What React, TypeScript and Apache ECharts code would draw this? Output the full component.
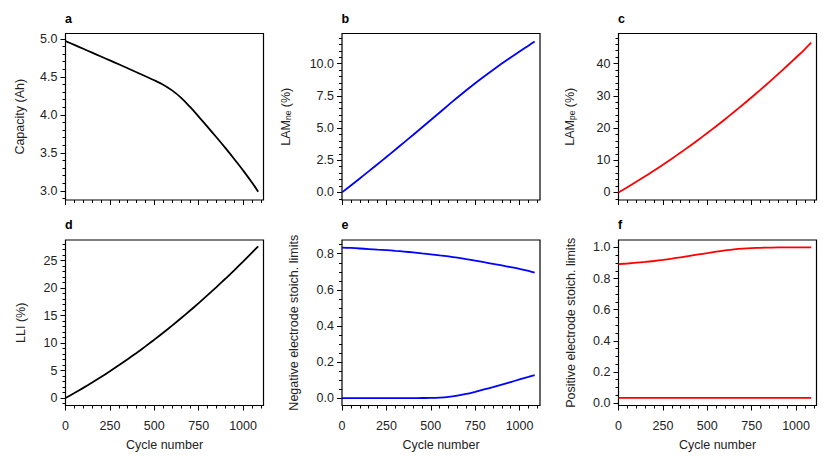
import React, { useEffect, useRef } from "react";
import * as echarts from "echarts";

// ---------- data ----------
const cycles = [0, 50, 100, 150, 200, 250, 300, 350, 400, 450, 500, 550, 600, 650, 700, 750, 800, 850, 900, 950, 1000, 1050, 1085];

const capacity = [4.97, 4.92, 4.869, 4.818, 4.767, 4.716, 4.665, 4.613, 4.561, 4.508, 4.455, 4.397, 4.322, 4.227, 4.107, 3.977, 3.842, 3.705, 3.565, 3.42, 3.27, 3.11, 2.99];
const lamNe = [0, 0.54, 1.085, 1.635, 2.19, 2.75, 3.315, 3.885, 4.46, 5.04, 5.623, 6.208, 6.793, 7.373, 7.938, 8.483, 9.008, 9.513, 10.003, 10.478, 10.943, 11.398, 11.713];
const lamPe = [0, 1.62, 3.29, 5.01, 6.78, 8.6, 10.47, 12.39, 14.36, 16.38, 18.45, 20.57, 22.74, 24.96, 27.23, 29.55, 31.92, 34.34, 36.81, 39.33, 41.9, 44.52, 46.5];
const lli = [0, 0.9, 1.836, 2.808, 3.816, 4.86, 5.94, 7.056, 8.208, 9.396, 10.62, 11.88, 13.176, 14.508, 15.876, 17.28, 18.72, 20.196, 21.708, 23.256, 24.84, 26.46, 27.6];
const negUpper = [0.834, 0.832, 0.829, 0.826, 0.823, 0.82, 0.816, 0.812, 0.807, 0.802, 0.797, 0.791, 0.785, 0.778, 0.77, 0.762, 0.753, 0.744, 0.735, 0.726, 0.716, 0.705, 0.695];
const negLower = [0.001, 0.001, 0.001, 0.001, 0.001, 0.001, 0.001, 0.001, 0.0012, 0.0015, 0.002, 0.004, 0.008, 0.015, 0.024, 0.036, 0.049, 0.062, 0.076, 0.09, 0.104, 0.118, 0.128];
const posUpper = [0.893, 0.897, 0.902, 0.907, 0.913, 0.92, 0.928, 0.937, 0.946, 0.955, 0.964, 0.973, 0.981, 0.988, 0.993, 0.996, 0.998, 0.999, 1.0, 1.0, 1.0, 1.0, 1.0];
const posLower = [0.033, 0.033, 0.033, 0.033, 0.033, 0.033, 0.033, 0.033, 0.033, 0.033, 0.033, 0.033, 0.033, 0.033, 0.033, 0.033, 0.033, 0.033, 0.033, 0.033, 0.033, 0.033, 0.033];

const panelLetters = ["a", "b", "c", "d", "e", "f"];
const yNames = [
  "Capacity (Ah)",
  "{n|LAM}{s|ne}{n| (%)}",
  "{n|LAM}{s|pe}{n| (%)}",
  "LLI (%)",
  "Negative electrode stoich. limits",
  "Positive electrode stoich. limits",
];
const xName = "Cycle number";
const xLimits = [0, 1115];
const xMajorTicks = [0, 250, 500, 750, 1000];
const xMinorStep = 50;

const yLimits = [
  [2.88, 5.07],
  [-0.59, 12.34],
  [-2.35, 49.35],
  [-1.37, 28.77],
  [-0.04, 0.876],
  [-0.016, 1.048],
];
const yMajorTicks = [
  [3.0, 3.5, 4.0, 4.5, 5.0],
  [0, 2.5, 5, 7.5, 10],
  [0, 10, 20, 30, 40],
  [0, 5, 10, 15, 20, 25],
  [0, 0.2, 0.4, 0.6, 0.8],
  [0, 0.2, 0.4, 0.6, 0.8, 1.0],
];
const yMinorSteps = [0.1, 0.5, 2, 1, 0.05, 0.05];
const yDecimals = [1, 1, 0, 0, 1, 1];

const panelSeries = [
  [{ values: capacity, color: "#000000" }],
  [{ values: lamNe, color: "#0000ff" }],
  [{ values: lamPe, color: "#ff0000" }],
  [{ values: lli, color: "#000000" }],
  [{ values: negUpper, color: "#0000ff" }, { values: negLower, color: "#0000ff" }],
  [{ values: posUpper, color: "#ff0000" }, { values: posLower, color: "#ff0000" }],
];

// ---------- layout ----------
const colLeft = [65.5, 342, 618.5];
const rowTop = [33.5, 240];
const gridW = 198;
const gridH = [166.5, 165.5];
const yNameGaps = [39, 50, 42, 38, 41.5, 41];
const FONT = "Liberation Sans";
const TEXT = "#222222";

function minorValues(lim: number[], step: number, majors: number[]) {
  const out: number[] = [];
  const start = Math.ceil(lim[0] / step - 1e-9);
  const end = Math.floor(lim[1] / step + 1e-9);
  for (let k = start; k <= end; k++) {
    const v = Math.round(k * step * 1e6) / 1e6;
    if (!majors.some((m) => Math.abs(m - v) < 1e-9)) out.push(v);
  }
  return out;
}

function buildOption() {
  const grids: any[] = [];
  const xAxes: any[] = [];
  const yAxes: any[] = [];
  const series: any[] = [];
  const graphics: any[] = [];

  for (let i = 0; i < 6; i++) {
    const r = Math.floor(i / 3);
    const c = i % 3;
    const bottomRow = r === 1;
    grids.push({
      left: colLeft[c],
      top: rowTop[r],
      width: gridW,
      height: gridH[r],
      show: true,
      borderColor: "#000",
      borderWidth: 1.2,
      backgroundColor: "transparent",
    });
    const xMinor = minorValues(xLimits, xMinorStep, xMajorTicks);
    xAxes.push({
      type: "value",
      gridIndex: i,
      position: "bottom",
      min: xLimits[0],
      max: xLimits[1],
      axisLine: { show: false, onZero: false },
      splitLine: { show: false },
      axisTick: { show: true, length: 5, customValues: xMajorTicks, lineStyle: { color: "#000", width: 1 } },
      axisLabel: {
        show: bottomRow,
        customValues: xMajorTicks,
        formatter: (v: number) => String(Math.round(v)),
        margin: 14,
        fontSize: 12.5,
        fontFamily: FONT,
        color: TEXT,
      },
      name: bottomRow ? xName : "",
      nameLocation: "middle",
      nameGap: 33,
      nameTextStyle: { fontSize: 12.5, fontFamily: FONT, color: TEXT },
    });
    xAxes.push({
      type: "value",
      gridIndex: i,
      position: "bottom",
      min: xLimits[0],
      max: xLimits[1],
      axisLine: { show: false, onZero: false },
      splitLine: { show: false },
      axisTick: { show: true, length: 3, customValues: xMinor, lineStyle: { color: "#000", width: 1 } },
      axisLabel: { show: false },
    });
    const yMinor = minorValues(yLimits[i], yMinorSteps[i], yMajorTicks[i]);
    const dec = yDecimals[i];
    yAxes.push({
      type: "value",
      gridIndex: i,
      position: "left",
      min: yLimits[i][0],
      max: yLimits[i][1],
      axisLine: { show: false, onZero: false },
      splitLine: { show: false },
      axisTick: { show: true, length: 5, customValues: yMajorTicks[i], lineStyle: { color: "#000", width: 1 } },
      axisLabel: {
        customValues: yMajorTicks[i],
        formatter: (v: number) => v.toFixed(dec),
        margin: 8,
        fontSize: 12.5,
        fontFamily: FONT,
        color: TEXT,
      },
      name: yNames[i],
      nameLocation: "middle",
      nameGap: yNameGaps[i],
      nameTextStyle: {
        fontSize: 12.5,
        fontFamily: FONT,
        color: TEXT,
        rich: {
          n: { fontSize: 12.5, fontFamily: FONT, color: TEXT, verticalAlign: "bottom", lineHeight: 16 },
          s: { fontSize: 8.5, fontFamily: FONT, color: TEXT, verticalAlign: "bottom", lineHeight: 12 },
        },
      },
    });
    yAxes.push({
      type: "value",
      gridIndex: i,
      position: "left",
      min: yLimits[i][0],
      max: yLimits[i][1],
      axisLine: { show: false, onZero: false },
      splitLine: { show: false },
      axisTick: { show: true, length: 3, customValues: yMinor, lineStyle: { color: "#000", width: 1 } },
      axisLabel: { show: false },
    });
    panelSeries[i].forEach((s) => {
      series.push({
        type: "line",
        xAxisIndex: 2 * i,
        yAxisIndex: 2 * i,
        data: cycles.map((x, k) => [x, s.values[k]]),
        showSymbol: false,
        symbol: "none",
        smooth: 0.3,
        lineStyle: { color: s.color, width: 1.8 },
        silent: true,
      });
    });
    graphics.push({
      type: "text",
      x: colLeft[c] - 0.5,
      y: r === 0 ? 12 : 218.5,
      style: {
        text: panelLetters[i],
        font: `bold 12.5px "${FONT}"`,
        fill: "#000",
        verticalAlign: "top",
      },
    });
  }

  return {
    animation: false,
    backgroundColor: "#ffffff",
    grid: grids,
    xAxis: xAxes,
    yAxis: yAxes,
    series,
    graphic: graphics,
  };
}

export default function App() {
  const ref = useRef<HTMLDivElement>(null);
  useEffect(() => {
    if (!ref.current) return;
    const chart = echarts.init(ref.current, undefined, { renderer: "svg" });
    chart.setOption(buildOption() as any);
    return () => chart.dispose();
  }, []);
  return (
    <div
      ref={ref}
      style={{ position: "absolute", left: 0, top: 0, width: 830, height: 465, background: "#fff" }}
    />
  );
}
